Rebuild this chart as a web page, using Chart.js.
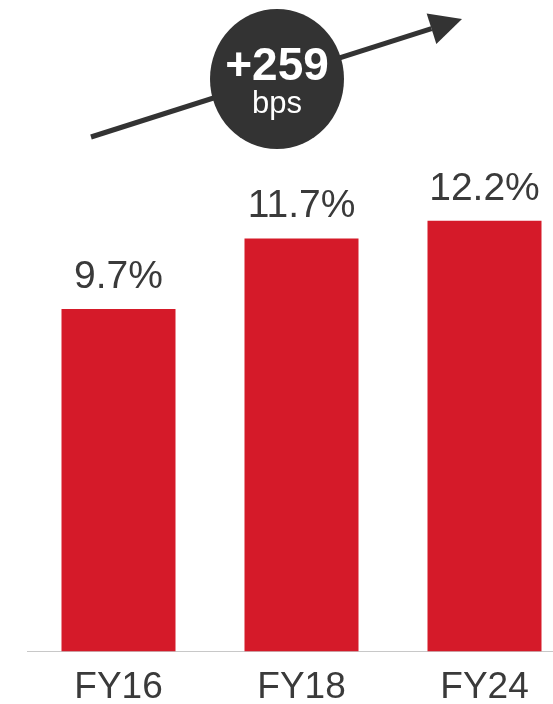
<!DOCTYPE html>
<html>
<head>
<meta charset="utf-8">
<script src="https://cdn.jsdelivr.net/npm/chart.js@4"></script>
<style>
  html, body { margin: 0; padding: 0; background: #fff; overflow: hidden; }
  #wrap { width: 576px; height: 724px; }
</style>
</head>
<body>
<div id="wrap"><canvas id="marginChart" width="576" height="724"></canvas></div>
<script>
const years = ["FY16", "FY18", "FY24"];
const margins = [9.7, 11.7, 12.2];
const changeText = "+259";
const changeUnit = "bps";

const barRed = "#d51a29";
const darkGrey = "#333333";

// value labels above bars + the arrow / bubble on top
const annotate = {
  id: "annotate",
  afterDatasetsDraw(chart) {
    const ctx = chart.ctx;
    const meta = chart.getDatasetMeta(0);
    ctx.save();
    ctx.fillStyle = "#3a3a3a";
    ctx.font = "39px 'Liberation Sans', Arial, sans-serif";
    ctx.textAlign = "center";
    ctx.textBaseline = "alphabetic";
    meta.data.forEach((bar, i) => {
      ctx.fillText(margins[i].toFixed(1) + "%", bar.x, bar.y - 21);
    });

    // arrow
    const x0 = 91, y0 = 137, x1 = 462, y1 = 19;
    const ang = Math.atan2(y1 - y0, x1 - x0);
    const headLen = 32, headW = 16;
    const bx = x1 - headLen * Math.cos(ang), by = y1 - headLen * Math.sin(ang);
    ctx.strokeStyle = darkGrey;
    ctx.lineWidth = 5;
    ctx.beginPath();
    ctx.moveTo(x0, y0);
    ctx.lineTo(bx, by);
    ctx.stroke();
    ctx.fillStyle = darkGrey;
    ctx.beginPath();
    ctx.moveTo(x1, y1);
    ctx.lineTo(bx + headW * Math.sin(ang), by - headW * Math.cos(ang));
    ctx.lineTo(bx - headW * Math.sin(ang), by + headW * Math.cos(ang));
    ctx.closePath();
    ctx.fill();

    // bubble
    ctx.beginPath();
    ctx.ellipse(277, 79, 67, 70, 0, 0, Math.PI * 2);
    ctx.fill();
    ctx.fillStyle = "#ffffff";
    ctx.font = "bold 46px 'Liberation Sans', Arial, sans-serif";
    ctx.fillText(changeText, 277, 80);
    ctx.font = "31px 'Liberation Sans', Arial, sans-serif";
    ctx.fillText(changeUnit, 277, 113);
    ctx.restore();
  }
};

const chart = new Chart(document.getElementById("marginChart"), {
  type: "bar",
  data: {
    labels: years,
    datasets: [{
      data: margins,
      backgroundColor: barRed,
      borderWidth: 0,
      barPercentage: 0.623,
      categoryPercentage: 1.0,
    }],
  },
  options: {
    responsive: false,
    animation: false,
    layout: { padding: { top: 16, left: 27, right: 0, bottom: 0 } },
    plugins: { legend: { display: false }, tooltip: { enabled: false } },
    scales: {
      x: {
        grid: { display: false, drawTicks: false },
        border: { display: true, color: "#c8c8c8", width: 1 },
        ticks: {
          color: "#3a3a3a",
          padding: 14,
          font: { family: "'Liberation Sans', Arial, sans-serif", size: 37 },
        },
      },
      y: {
        display: false,
        min: 0,
        max: 18,
      },
    },
  },
  plugins: [annotate],
});
</script>
</body>
</html>
